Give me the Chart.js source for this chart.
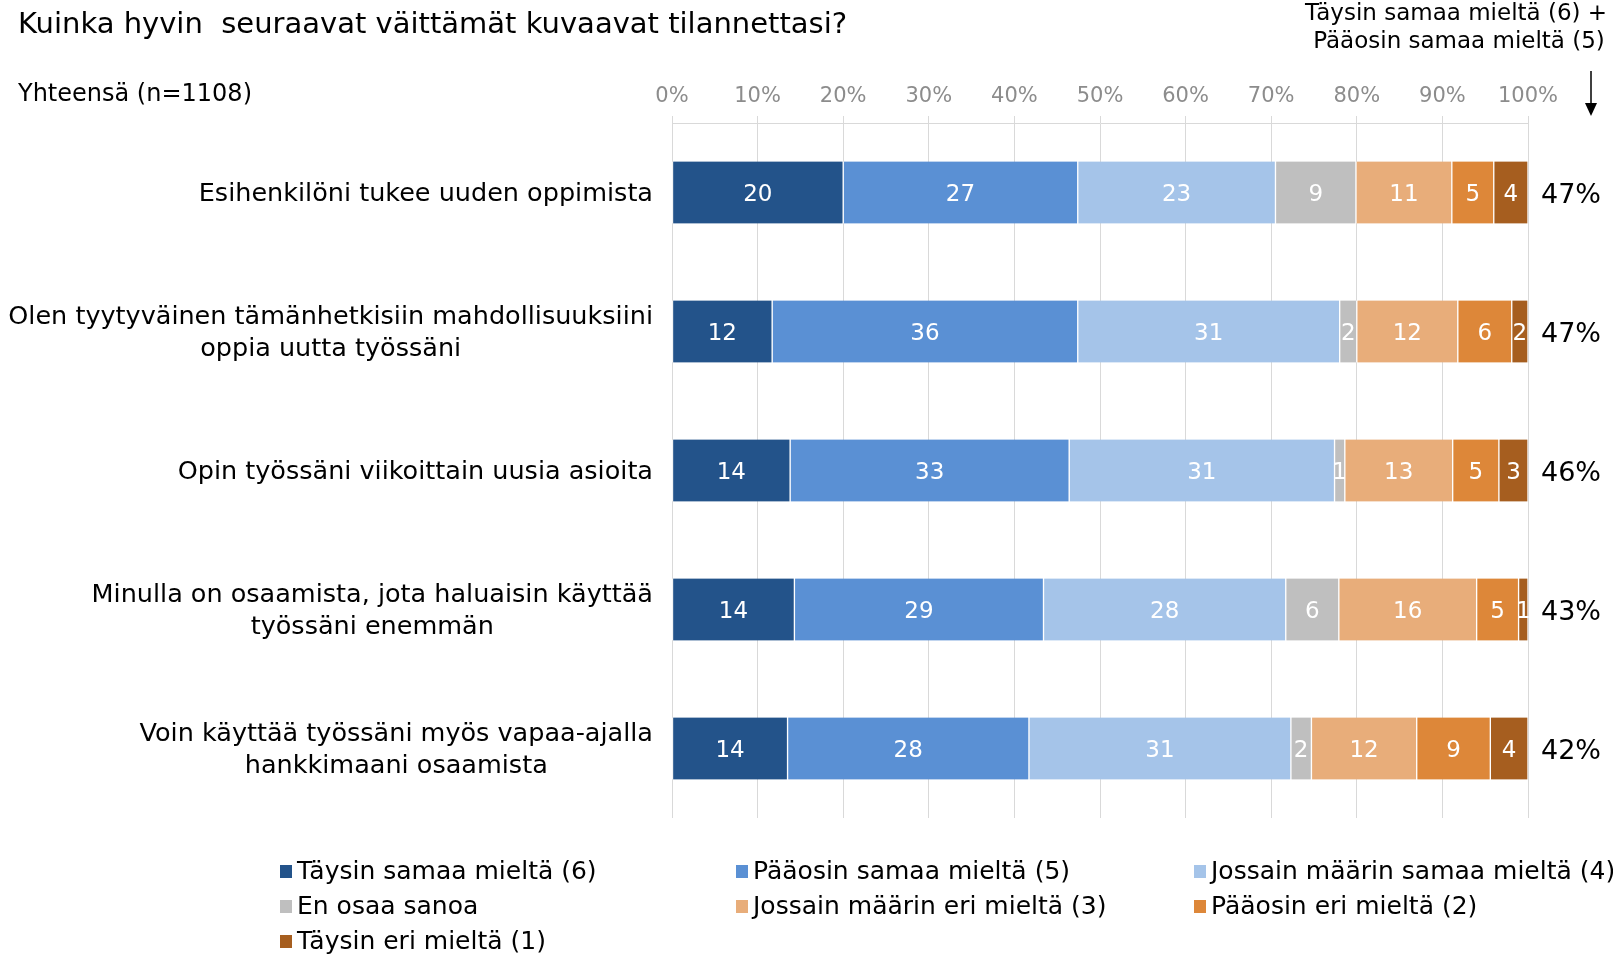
<!DOCTYPE html>
<html>
<head>
<meta charset="utf-8">
<script src="https://cdn.jsdelivr.net/npm/chart.js@4.4.0/dist/chart.umd.min.js"></script>
<style>
  html, body { margin: 0; padding: 0; background: #fff; }
  #wrap { width: 1613px; height: 954px; position: relative; }
</style>
</head>
<body>
<div id="wrap"><canvas id="likertChart"></canvas></div>
<script>
// statements (multi-line labels)
const statements = [
  ["Esihenkilöni tukee uuden oppimista"],
  ["Olen tyytyväinen tämänhetkisiin mahdollisuuksiini", "oppia uutta työssäni"],
  ["Opin työssäni viikoittain uusia asioita"],
  ["Minulla on osaamista, jota haluaisin käyttää", "työssäni enemmän"],
  ["Voin käyttää työssäni myös vapaa-ajalla", "hankkimaani osaamista"]
];

const seriesNames = [
  "Täysin samaa mieltä (6)",
  "Pääosin samaa mieltä (5)",
  "Jossain määrin samaa mieltä (4)",
  "En osaa sanoa",
  "Jossain määrin eri mieltä (3)",
  "Pääosin eri mieltä (2)",
  "Täysin eri mieltä (1)"
];
const seriesColors = ["#23538A", "#5A90D4", "#A5C4E9", "#BFBFBF", "#E8AD7A", "#DD8739", "#A65E1F"];

// percentages
const taysinSamaa  = [20.0, 11.7, 13.8, 14.3, 13.5];
const paaosinSamaa = [27.4, 35.7, 32.6, 29.1, 28.2];
const jossainSamaa = [23.1, 30.6, 31.0, 28.3, 30.6];
const enOsaa       = [9.4, 2.0, 1.2, 6.2, 2.4];
const jossainEri   = [11.2, 11.8, 12.6, 16.1, 12.3];
const paaosinEri   = [4.9, 6.3, 5.4, 4.9, 8.6];
const taysinEri    = [4.0, 1.9, 3.4, 1.1, 4.4];
const agreeTotals  = ["47%", "47%", "46%", "43%", "42%"];
const xTicks = [0, 10, 20, 30, 40, 50, 60, 70, 80, 90, 100];

const FONT = "'DejaVu Sans', Verdana, sans-serif";
Chart.defaults.font.family = FONT;

const seriesValues = [taysinSamaa, paaosinSamaa, jossainSamaa, enOsaa, jossainEri, paaosinEri, taysinEri];

const datasets = seriesValues.map((vals, i) => ({
  label: seriesNames[i],
  data: vals,
  backgroundColor: seriesColors[i],
  borderColor: '#ffffff',
  borderWidth: { left: 1, right: 1, top: 0, bottom: 0 },
  borderSkipped: false,
  barThickness: 62
}));

// draws the texts around the plot: statements, values, totals, title, legend
const decorations = {
  id: 'decorations',
  afterDatasetsDraw(chart) {
    const ctx = chart.ctx;
    const area = chart.chartArea;
    const yScale = chart.scales.y;
    ctx.save();

    // values inside the segments
    ctx.fillStyle = '#ffffff';
    ctx.font = '23px ' + FONT;
    ctx.textAlign = 'center';
    ctx.textBaseline = 'middle';
    chart.data.datasets.forEach((ds, di) => {
      const meta = chart.getDatasetMeta(di);
      meta.data.forEach((bar, i) => {
        const p = bar.getCenterPoint();
        ctx.fillText(String(Math.round(ds.data[i])), p.x, p.y + 3);
      });
    });

    // statements on the left
    ctx.fillStyle = '#000000';
    ctx.font = '25.5px ' + FONT;
    const rightEdge = area.left - 19;
    statements.forEach((lines, i) => {
      const yc = yScale.getPixelForValue(i) + 2;
      const maxW = Math.max(...lines.map(l => ctx.measureText(l).width));
      const cx = rightEdge - maxW / 2;
      const lh = 32;
      lines.forEach((l, k) => {
        ctx.fillText(l, cx, yc + (k - (lines.length - 1) / 2) * lh);
      });
    });

    // totals on the right
    ctx.textAlign = 'left';
    ctx.font = '27px ' + FONT;
    agreeTotals.forEach((t, i) => {
      ctx.fillText(t, area.right + 13, yScale.getPixelForValue(i) + 3);
    });

    // title and subtitle
    ctx.font = '29px ' + FONT;
    ctx.fillText("Kuinka hyvin  seuraavat väittämät kuvaavat tilannettasi?", 18, 25);
    ctx.font = '24px ' + FONT;
    ctx.fillText("Yhteensä (n=1108)", 18, 95);

    // note with arrow at top right
    ctx.textAlign = 'center';
    ctx.font = '23px ' + FONT;
    ctx.fillText("Täysin samaa mieltä (6) +", 1456, 14);
    ctx.fillText("Pääosin samaa mieltä (5)", 1459, 42);
    ctx.strokeStyle = '#000';
    ctx.lineWidth = 1.5;
    ctx.beginPath();
    ctx.moveTo(1591, 71);
    ctx.lineTo(1591, 106);
    ctx.stroke();
    ctx.beginPath();
    ctx.moveTo(1585, 103);
    ctx.lineTo(1597, 103);
    ctx.lineTo(1591, 116);
    ctx.closePath();
    ctx.fillStyle = '#000';
    ctx.fill();

    // legend in three columns
    const colMarker = [280, 736, 1194];
    const rowY = [871, 906, 941];
    ctx.font = '25px ' + FONT;
    ctx.textAlign = 'left';
    seriesNames.forEach((name, i) => {
      const c = i % 3, r = Math.floor(i / 3);
      ctx.fillStyle = seriesColors[i];
      ctx.fillRect(colMarker[c], rowY[r] - 6, 12, 13);
      ctx.fillStyle = '#000';
      ctx.fillText(name, colMarker[c] + 17, rowY[r] + 1);
    });

    ctx.restore();
  }
};

new Chart(document.getElementById('likertChart'), {
  type: 'bar',
  data: { labels: statements, datasets: datasets },
  options: {
    indexAxis: 'y',
    responsive: true,
    maintainAspectRatio: false,
    animation: false,
    layout: { padding: { top: 81, left: 672, right: 85, bottom: 136 } },
    scales: {
      x: {
        position: 'top',
        stacked: true,
        min: 0,
        max: 100,
        afterBuildTicks(scale) { scale.ticks = xTicks.map(v => ({ value: v })); },
        afterFit(scale) { scale.height = 42; },
        ticks: {
          color: '#8c8c8c',
          font: { size: 21 },
          padding: 7,
          maxRotation: 0,
          callback: v => v + '%'
        },
        grid: { color: '#d9d9d9', tickLength: 7 },
        border: { color: '#d9d9d9' }
      },
      y: {
        stacked: true,
        display: false
      }
    },
    plugins: {
      legend: { display: false },
      tooltip: { enabled: false }
    }
  },
  plugins: [decorations]
});
</script>
</body>
</html>
